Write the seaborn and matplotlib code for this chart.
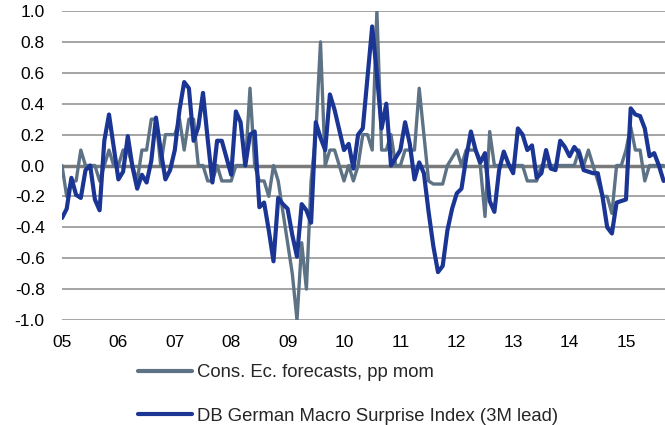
# -*- coding: utf-8 -*-
"""
Consensus forecast changes vs. DB German Macro Surprise Index (3M lead)
"""

import matplotlib
matplotlib.use("Agg")
import matplotlib.pyplot as plt
import numpy as np
import pandas as pd
import seaborn as sns

# Monthly data, Jan 2005 onwards
cons_forecasts = [
    0.0, -0.2, -0.1, -0.1, 0.1, 0.0, 0.0, 0.0, -0.1, 0.0, 0.1, 0.0,        # 05
    0.0, 0.1, 0.1, 0.0, -0.1, 0.1, 0.1, 0.3, 0.3, 0.0, 0.2, 0.2,           # 06
    0.2, 0.3, 0.1, 0.3, 0.3, 0.0, 0.0, -0.1, -0.1, 0.0, -0.1, -0.1,        # 07
    -0.1, 0.0, 0.0, 0.0, 0.5, 0.0, -0.1, -0.1, -0.2, 0.0, -0.1, -0.3,      # 08
    -0.5, -0.7, -1.0, -0.5, -0.8, -0.1, 0.2, 0.8, 0.0, 0.1, 0.1, 0.0,      # 09
    -0.1, 0.0, -0.1, 0.0, 0.2, 0.2, 0.1, 1.0, 0.1, 0.1, 0.2, 0.0,          # 10
    0.0, 0.1, 0.1, 0.1, 0.5, 0.2, -0.1, -0.12, -0.12, -0.12, 0.0, 0.05,    # 11
    0.1, 0.0, 0.1, 0.1, 0.1, 0.0, -0.33, 0.22, 0.0, 0.0, 0.0, 0.0,         # 12
    0.0, 0.0, 0.0, -0.1, -0.1, -0.1, 0.0, 0.0, 0.0, 0.0, 0.0, 0.0,         # 13
    0.0, 0.0, 0.1, 0.0, 0.1, 0.0, -0.1, -0.2, -0.2, -0.31, 0.0, 0.0,       # 14
    0.1, 0.25, 0.1, 0.1, -0.1, 0.0, 0.0, 0.0, 0.0,                         # 15
]
surprise_index = [
    -0.34, -0.28, -0.08, -0.19, -0.21, -0.03, 0.0, -0.22, -0.29, 0.16, 0.33, 0.12,
    -0.09, -0.04, 0.19, -0.01, -0.15, -0.06, -0.11, 0.03, 0.31, 0.10, -0.09, -0.03,
    0.10, 0.36, 0.54, 0.50, 0.16, 0.25, 0.47, 0.17, -0.11, 0.16, 0.16, 0.05,
    -0.06, 0.35, 0.28, 0.0, 0.20, 0.22, -0.27, -0.24, -0.42, -0.62, -0.21, -0.25,
    -0.28, -0.45, -0.59, -0.25, -0.29, -0.37, 0.28, 0.18, 0.10, 0.46, 0.36, 0.23,
    0.10, 0.14, -0.02, 0.20, 0.24, 0.57, 0.90, 0.59, 0.24, 0.40, 0.0, 0.05,
    0.10, 0.28, 0.14, -0.09, 0.02, -0.05, -0.30, -0.52, -0.69, -0.65, -0.42, -0.28,
    -0.18, -0.15, 0.05, 0.22, 0.10, 0.02, 0.08, -0.23, -0.30, -0.03, 0.09, 0.01,
    -0.05, 0.24, 0.20, 0.10, 0.13, -0.08, -0.05, 0.10, -0.02, -0.03, 0.16, 0.12,
    0.06, 0.12, 0.08, -0.03, -0.04, -0.05, -0.05, -0.20, -0.40, -0.44, -0.24, -0.23,
    -0.22, 0.37, 0.33, 0.32, 0.24, 0.06, 0.08, 0.0, -0.10,
]
year_labels = ["05", "06", "07", "08", "09", "10", "11", "12", "13", "14", "15"]
y_ticks = [1.0, 0.8, 0.6, 0.4, 0.2, 0.0, -0.2, -0.4, -0.6, -0.8, -1.0]

label_cons = "Cons. Ec. forecasts, pp mom"
label_db = "DB German Macro Surprise Index (3M lead)"

# Build a long DataFrame for seaborn
df = pd.DataFrame({
    "month": list(range(len(cons_forecasts))) + list(range(len(surprise_index))),
    "value": cons_forecasts + surprise_index,
    "series": [label_cons] * len(cons_forecasts) + [label_db] * len(surprise_index),
})

sns.set_style("white")
plt.rcParams["font.family"] = ["Liberation Sans", "DejaVu Sans"]

fig = plt.figure(figsize=(6.65, 4.25), dpi=100)
ax = fig.add_axes([62 / 665, 1 - 320 / 425, 603 / 665, 309 / 425])

# Grid lines and the heavier zero line
for t in y_ticks:
    if t != 0.0:
        ax.axhline(t, color="#8c8c8c", lw=1.1, zorder=1)
ax.axhline(0.0, color="#7a7a7a", lw=2.5, zorder=2)

sns.lineplot(data=df, x="month", y="value", hue="series",
             palette={label_cons: "#5d7285", label_db: "#1b3594"},
             size="series", sizes={label_cons: 2.4, label_db: 3.0},
             ax=ax, legend=False, zorder=3)

ax.set_xlim(0, 128.3)
ax.set_ylim(-1.0, 1.0)
ax.set_xticks(np.arange(0, 12 * len(year_labels), 12))
ax.set_xticklabels(year_labels)
ax.set_yticks(y_ticks)
ax.set_yticklabels([f"{t:.1f}" for t in y_ticks])
ax.tick_params(axis="both", length=0, labelsize=12.5, colors="black")
ax.tick_params(axis="x", pad=11)
ax.tick_params(axis="y", pad=12.5)
ax.set_xlabel("")
ax.set_ylabel("")
for s in ax.spines.values():
    s.set_visible(False)

# Legend below the chart
handles = [plt.Line2D([], [], color="#5d7285", lw=3.0),
           plt.Line2D([], [], color="#1b3594", lw=3.0)]
fig.legend(handles, [label_cons, label_db], loc="upper left",
           bbox_to_anchor=(131 / 665, 1 - 357 / 425), frameon=False,
           fontsize=13.3, handlelength=2.9, handletextpad=0.27,
           labelspacing=1.43, borderaxespad=0)

fig.savefig("out.png", dpi=100)
